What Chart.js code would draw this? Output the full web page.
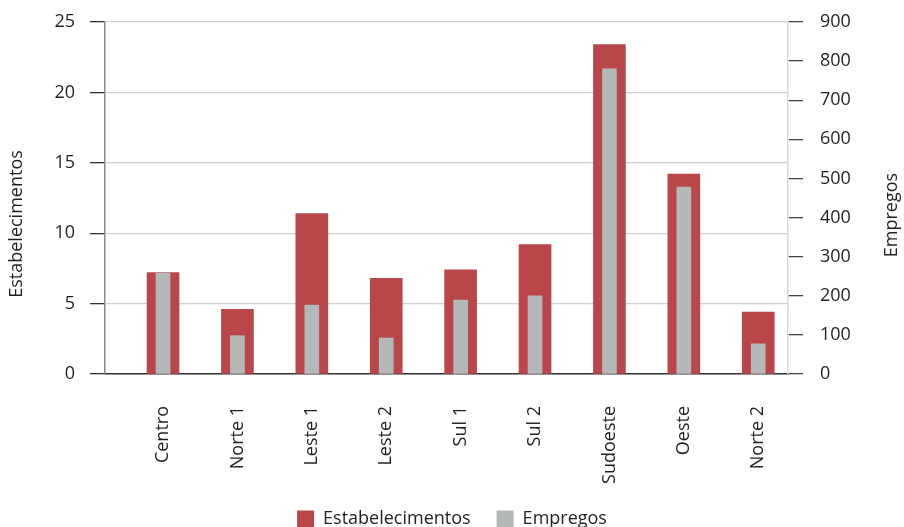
<!DOCTYPE html>
<html>
<head>
<meta charset="utf-8">
<script src="https://cdn.jsdelivr.net/npm/chart.js@4/dist/chart.umd.min.js"></script>
<style>
  html, body { margin: 0; padding: 0; background: #fff; overflow: hidden; }
  #wrap { position: relative; width: 904px; height: 538px; }
</style>
</head>
<body>
<div id="wrap"><canvas id="chart"></canvas></div>
<script>
// regions along the x axis
const regioes = ['Centro', 'Norte 1', 'Leste 1', 'Leste 2', 'Sul 1', 'Sul 2', 'Sudoeste', 'Oeste', 'Norte 2'];
// left axis: number of establishments
const estabelecimentos = [7.2, 4.6, 11.4, 6.8, 7.4, 9.2, 23.4, 14.2, 4.4];
// right axis: number of jobs
const empregos = [258, 98, 176, 92, 189, 200, 780, 478, 77];

const ticksEstab = [0, 5, 10, 15, 20, 25];
const ticksEmpregos = [0, 100, 200, 300, 400, 500, 600, 700, 800, 900];

const RED = '#b9474a';
const GRAY = '#b5b8b8';
const TEXT = '#231f20';
const FONT = "'Open Sans', 'Noto Sans', sans-serif";

const toPoints = (arr) => arr.map((v, i) => ({x: i, y: v}));

// both axis titles read bottom-to-top, so they are drawn here
const axisTitles = {
    id: 'axisTitles',
    afterDraw(chart) {
        const ctx = chart.ctx;
        ctx.save();
        ctx.fillStyle = TEXT;
        ctx.font = `18px ${FONT}`;
        ctx.textAlign = 'center';
        ctx.textBaseline = 'middle';
        [['Estabelecimentos', 17, 224], ['Empregos', 892, 215]].forEach(([txt, x, y]) => {
            ctx.save();
            ctx.translate(x, y);
            ctx.rotate(-Math.PI / 2);
            ctx.fillText(txt, 0, 0);
            ctx.restore();
        });
        ctx.restore();
    }
};

const fitY = (width) => (scale) => {
    scale.width = width;
    scale.paddingTop = 0;
    scale.paddingBottom = 0;
};

new Chart(document.getElementById('chart').getContext('2d'), {
    type: 'bar',
    data: {
        datasets: [
            {
                label: 'Estabelecimentos',
                data: toPoints(estabelecimentos),
                backgroundColor: RED,
                yAxisID: 'y',
                barThickness: 32,
                grouped: false,
                order: 1
            },
            {
                label: 'Empregos',
                data: toPoints(empregos),
                backgroundColor: GRAY,
                yAxisID: 'y1',
                barThickness: 14,
                grouped: false,
                order: 0
            }
        ]
    },
    plugins: [axisTitles],
    options: {
        responsive: true,
        maintainAspectRatio: false,
        animation: false,
        layout: {padding: {top: 22, left: 0, right: 0, bottom: 0}},
        plugins: {
            tooltip: {enabled: false},
            legend: {
                position: 'bottom',
                labels: {
                    color: TEXT,
                    font: {family: FONT, size: 18},
                    boxWidth: 17,
                    boxHeight: 17,
                    padding: 26,
                    sort: (a, b) => a.datasetIndex - b.datasetIndex
                }
            }
        },
        scales: {
            x: {
                type: 'linear',
                offset: false,
                min: -0.78,
                max: 8.4,
                grid: {display: false},
                border: {display: true, color: '#333', width: 1.5},
                ticks: {
                    stepSize: 1,
                    includeBounds: false,
                    autoSkip: false,
                    maxRotation: 90,
                    minRotation: 90,
                    padding: 24,
                    color: TEXT,
                    font: {family: FONT, size: 18},
                    callback: (v) => regioes[v] ?? ''
                },
                afterFit: (scale) => { scale.height = 110; }
            },
            y: {
                position: 'left',
                min: 0,
                max: 25,
                afterBuildTicks: (scale) => { scale.ticks = ticksEstab.map(v => ({value: v})); },
                grid: {color: '#cfcfcf', lineWidth: 1.3, tickLength: 15, tickColor: '#333'},
                border: {color: '#888', width: 1.5},
                ticks: {color: TEXT, padding: 15, font: {family: FONT, size: 18}},
                afterFit: fitY(105)
            },
            y1: {
                position: 'right',
                min: 0,
                max: 900,
                afterBuildTicks: (scale) => { scale.ticks = ticksEmpregos.map(v => ({value: v})); },
                grid: {drawOnChartArea: false, tickLength: 15, tickColor: '#444', lineWidth: 1.3},
                border: {color: '#d8d8d8', width: 1.5},
                ticks: {color: TEXT, padding: 17, font: {family: FONT, size: 18}},
                afterFit: fitY(116)
            }
        }
    }
});
</script>
</body>
</html>
